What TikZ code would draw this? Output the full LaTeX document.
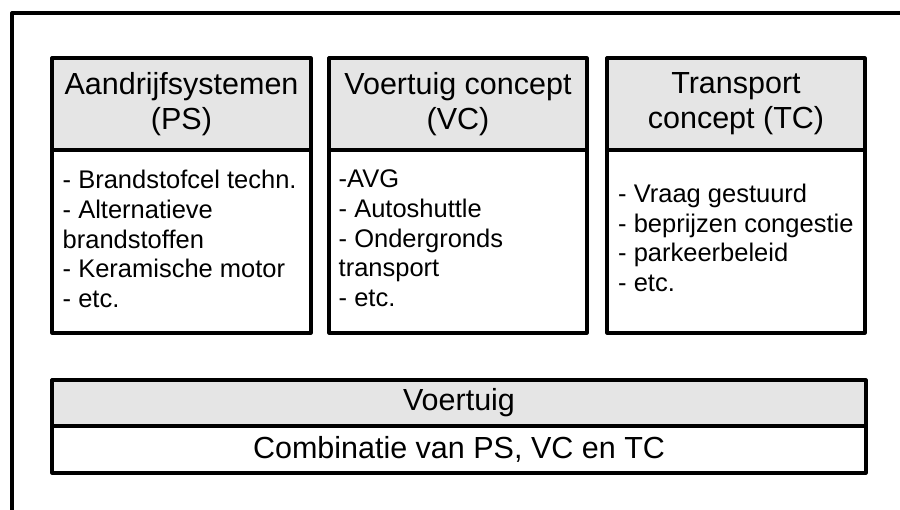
\documentclass[tikz,border=0pt]{standalone}
\usepackage{fontspec}
\setmainfont{Liberation Sans}
\definecolor{headgray}{RGB}{229,229,229}
\begin{document}
\begin{tikzpicture}[x=1pt,y=-1pt,
  frame/.style={line width=3.2pt, line join=round},
  box/.style={draw, line width=3.2pt, line join=round, inner sep=0pt, fill=white},
  headbox/.style={box, fill=headgray, font=\fontsize{30.5}{35}\selectfont, align=center},
  bodytext/.style={font=\fontsize{25.5}{29.7}\selectfont, align=left, inner sep=0pt, anchor=west},
  wide/.style={font=\fontsize{30.5}{35}\selectfont}
]
\useasboundingbox (0,0) rectangle (900,510);
\fill[white] (0,0) rectangle (900,510);
% outer frame (cut off right and bottom)
\coordinate (fr) at (903,13);
\coordinate (fc) at (12,13);
\coordinate (fb) at (12,513);
\draw[frame] (fr) -- (fc) -- (fb);

% box 1
\node[box, minimum width=259, minimum height=183] (b1) at (181.5,241.5) {};
\node[headbox, minimum width=259, minimum height=92] (h1) at (181.5,104) {Aandrijfsystemen\\(PS)};
\node[bodytext] (t1) at (62.5,239) {- Brandstofcel techn.\\- Alternatieve\\brandstoffen\\- Keramische motor\\- etc.};

% box 2
\node[box, minimum width=258, minimum height=183] (b2) at (458,241.5) {};
\node[headbox, minimum width=258, minimum height=92] (h2) at (458,104) {Voertuig concept\\(VC)};
\node[bodytext] (t2) at (338.5,238.5) {-AVG\\- Autoshuttle\\- Ondergronds\\transport\\- etc.};

% box 3
\node[box, minimum width=258, minimum height=183] (b3) at (736,241.5) {};
\node[headbox, minimum width=258, minimum height=92] (h3) at (736,104) {Transport\\concept (TC)};
\node[bodytext] (t3) at (618,238) {- Vraag gestuurd\\- beprijzen congestie\\- parkeerbeleid\\- etc.};

% bottom box
\node[box, wide, minimum width=814, minimum height=47] (v2) at (459,449.5) {Combinatie van PS, VC en TC};
\node[headbox, minimum width=814, minimum height=46] (v1) at (459,403) {Voertuig};
\end{tikzpicture}
\end{document}
